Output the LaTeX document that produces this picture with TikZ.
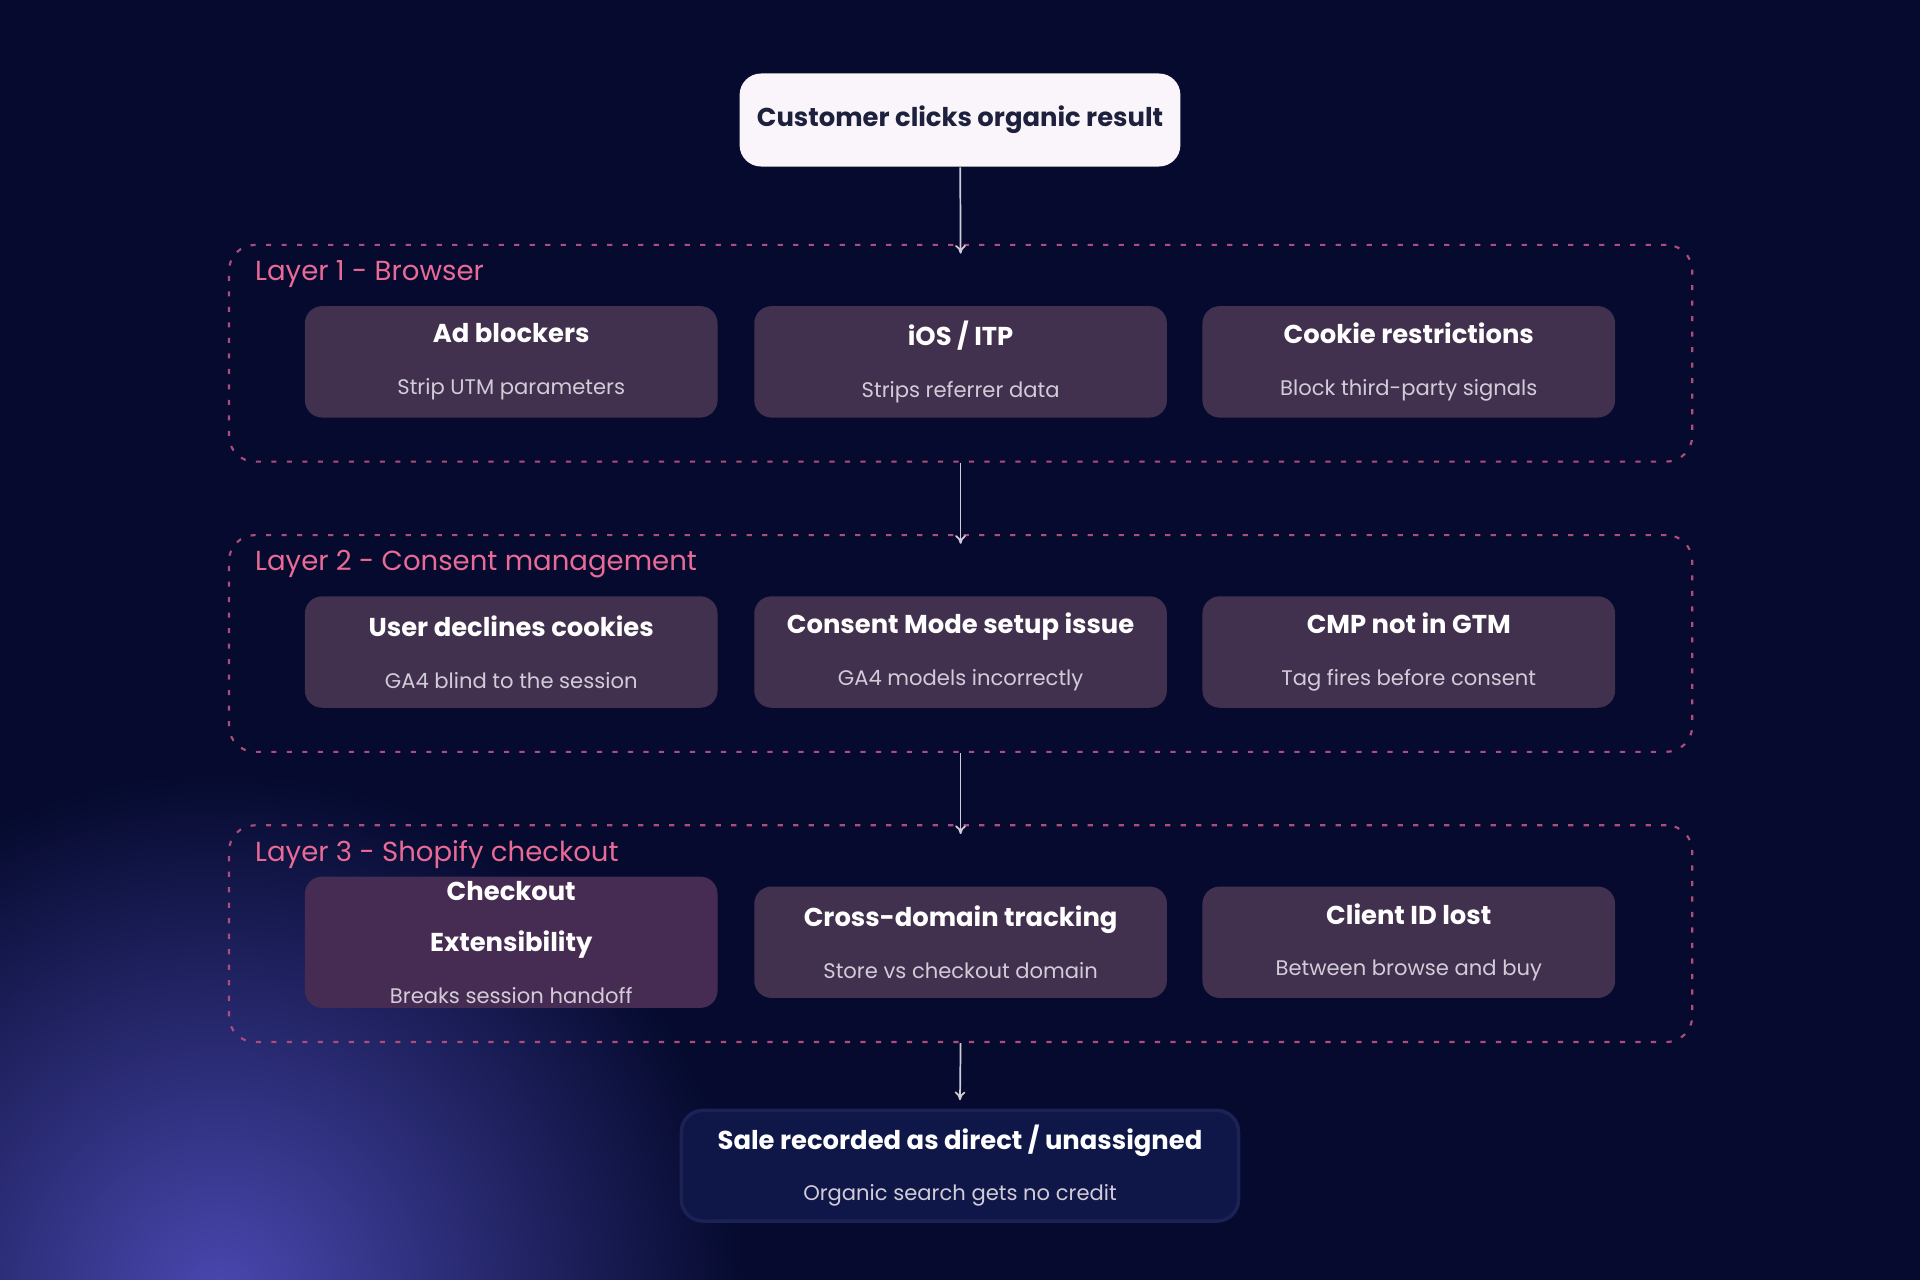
\documentclass[tikz,border=0pt]{standalone}
\usepackage{fontspec}
\setmainfont{Poppins}
\usetikzlibrary{arrows.meta}
\definecolor{bgnavy}{HTML}{050A2E}
\definecolor{glowblue}{HTML}{4A48B0}
\definecolor{cardfill}{HTML}{41304E}
\definecolor{layerpink}{HTML}{E86A95}
\definecolor{dashpink}{HTML}{B04C7C}
\definecolor{subgray}{HTML}{D2CCD8}
\definecolor{salefill}{HTML}{0F1749}
\definecolor{saleedge}{HTML}{1C2354}
\newcommand{\cardtext}[2]{{\fontsize{6}{6.8}\selectfont\bfseries #1}\\{\fontsize{4.9}{6}\selectfont\color{subgray}#2}}
\begin{document}
\begin{tikzpicture}[x=0.01cm,y=-0.01cm,
    layer/.style={draw=dashpink, dash pattern=on 1.2pt off 2.4pt, line width=0.5pt, rounded corners=6pt, minimum width=1195*0.01cm, minimum height=177*0.01cm, inner sep=0pt},
    layerlabel/.style={anchor=west, text=layerpink, font=\fontsize{6.4}{7}\selectfont},
    card/.style={fill=cardfill, rounded corners=4pt, minimum width=337*0.01cm, minimum height=91*0.01cm, align=center, text=white, inner sep=1pt},
    flow/.style={draw=subgray, line width=0.4pt, -{To[length=2pt,width=2.5pt]}}]
  % background with glow
  \begin{scope}
    \clip (0,0) rectangle (1568,1045);
    \fill[bgnavy] (0,0) rectangle (1568,1045);
    \shade[inner color=glowblue, outer color=bgnavy] (180,1060) circle (430);
  \end{scope}
  \useasboundingbox (0,0) rectangle (1568,1045);
  % start and end
  \node[fill=white!96!violet, rounded corners=5pt, minimum width=360*0.01cm, minimum height=76*0.01cm, text=bgnavy!80!gray, font=\fontsize{6}{7}\selectfont\bfseries] (click) at (784,98) {Customer clicks organic result};
  \node[fill=salefill, draw=saleedge, line width=0.8pt, rounded corners=5pt, minimum width=455*0.01cm, minimum height=85*0.01cm, align=center, text=white] (sale) at (784,952) {\cardtext{Sale recorded as direct / unassigned}{Organic search gets no credit}};
  % layers
  \node[layer] (browser) at (784.5,288.5) {};
  \node[layer] (consent) at (784.5,525.5) {};
  \node[layer] (shopify) at (784.5,762.5) {};
  \node[layerlabel] at (196,224) {Layer 1 - Browser};
  \node[layerlabel] at (196,461) {Layer 2 - Consent management};
  \node[layerlabel] at (196,698) {Layer 3 - Shopify checkout};
  % cards
  \node[card] (adblock) at (417.5,295.5) {\cardtext{Ad blockers}{Strip UTM parameters}};
  \node[card] (itp) at (784.5,295.5) {\cardtext{iOS / ITP}{Strips referrer data}};
  \node[card] (cookies) at (1150.5,295.5) {\cardtext{Cookie restrictions}{Block third-party signals}};
  \node[card] (declines) at (417.5,532.5) {\cardtext{User declines cookies}{GA4 blind to the session}};
  \node[card] (consentmode) at (784.5,532.5) {\cardtext{Consent Mode setup issue}{GA4 models incorrectly}};
  \node[card] (cmp) at (1150.5,532.5) {\cardtext{CMP not in GTM}{Tag fires before consent}};
  \node[card, fill=cardfill!92!violet] (extensibility) at (417.5,769.5) {{\fontsize{6}{6.8}\selectfont\bfseries Checkout}\\{\fontsize{6}{6.8}\selectfont\bfseries Extensibility}\\{\fontsize{4.9}{6}\selectfont\color{subgray}Breaks session handoff}};
  \node[card] (crossdomain) at (784.5,769.5) {\cardtext{Cross-domain tracking}{Store vs checkout domain}};
  \node[card] (clientid) at (1150.5,769.5) {\cardtext{Client ID lost}{Between browse and buy}};
  % flow
  \draw[flow] (click) -- ([yshift=-8*0.01cm]browser.north);
  \draw[flow] (browser.south) -- ([yshift=-8*0.01cm]consent.north);
  \draw[flow] (consent.south) -- ([yshift=-8*0.01cm]shopify.north);
  \draw[flow] (shopify.south) -- ([yshift=7*0.01cm]sale.north);
\end{tikzpicture}
\end{document}
